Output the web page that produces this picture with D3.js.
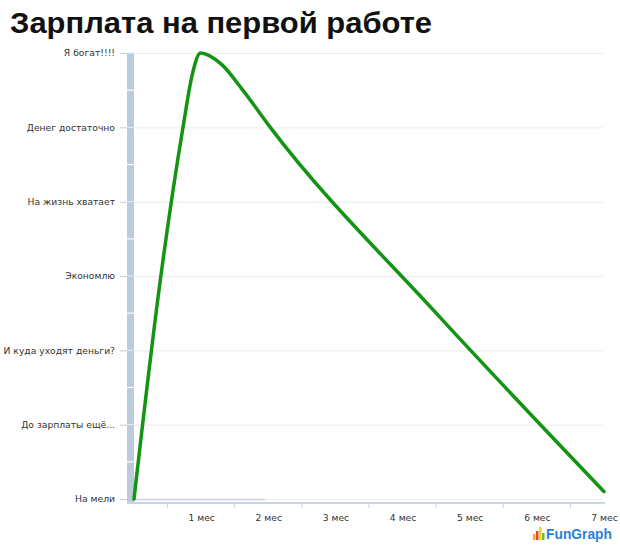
<!DOCTYPE html>
<html><head><meta charset="utf-8">
<script src="https://cdn.jsdelivr.net/npm/d3@7"></script>
<style>html,body{margin:0;padding:0;background:#fff;}svg{display:block;}</style>
</head><body>
<svg id="c" width="620" height="547"></svg>
<script>
const title = "Зарплата на первой работе";
const levelLabels = ["На мели","До зарплаты ещё...","И куда уходят деньги?","Экономлю","На жизнь хватает","Денег достаточно","Я богат!!!!"];
const monthLabels = ["1 мес","2 мес","3 мес","4 мес","5 мес","6 мес","7 мес"];
const months = [0, 0.40, 0.73, 0.87, 0.99, 1.30, 1.62, 2.03, 4.5, 7.0];
const salary = [0, 3.0, 5.0, 5.72, 6.0, 5.85, 5.5, 5.0, 2.5, 0.1];

const svg = d3.select("#c");
const x = d3.scaleLinear().domain([0,7]).range([134,604]);
const y = d3.scaleLinear().domain([0,6]).range([499,53]);

svg.append("text").attr("x",10).attr("y",33).attr("font-family","Liberation Sans, Arial, sans-serif")
  .attr("font-weight","bold").attr("font-size",30).attr("textLength",422).attr("lengthAdjust","spacingAndGlyphs")
  .attr("fill","#111").text(title);

// gridlines
const levels = d3.range(levelLabels.length);
svg.append("g").selectAll("line").data(levels).join("line")
  .attr("x1",134).attr("x2",603).attr("y1",d=>y(d)+0.5).attr("y2",d=>y(d)+0.5)
  .attr("stroke","#ececec").attr("stroke-width",1);
svg.append("line").attr("x1",127).attr("x2",265).attr("y1",y(0)+0.5).attr("y2",y(0)+0.5)
  .attr("stroke","#cdd3dc").attr("stroke-width",1.5);

// y axis bar
svg.append("rect").attr("x",127).attr("y",y(6)).attr("width",7).attr("height",y(0)-y(6)+4).attr("fill","#bccbd9");
const halfs = d3.range(0.5,6,1);
svg.append("g").selectAll("line").data(halfs).join("line")
  .attr("x1",127).attr("x2",134).attr("y1",d=>y(d)).attr("y2",d=>y(d))
  .attr("stroke","#fff").attr("stroke-width",1.2);
svg.append("g").selectAll("line").data(levels.slice(1)).join("line")
  .attr("x1",127).attr("x2",134).attr("y1",d=>y(d)).attr("y2",d=>y(d))
  .attr("stroke","#e6edf3").attr("stroke-width",1);

// y axis ticks and labels
const yAxis = d3.axisLeft(y).tickValues(levels).tickFormat(d=>levelLabels[d]).tickSize(7).tickPadding(5);
const gy = svg.append("g").attr("transform","translate(127,0)").call(yAxis);
gy.select(".domain").remove();
gy.selectAll(".tick line").attr("stroke","#c4ccd6");
gy.selectAll(".tick text").attr("font-family","DejaVu Sans, Verdana, sans-serif").attr("font-size",9.2).attr("fill","#333");

// x axis
svg.append("line").attr("x1",127).attr("x2",605).attr("y1",503).attr("y2",503).attr("stroke","#c9d4e0").attr("stroke-width",2);
const xt = d3.range(0.5,7,1);
svg.append("g").selectAll("line").data(xt).join("line")
  .attr("x1",d=>x(d)).attr("x2",d=>x(d)).attr("y1",504).attr("y2",508)
  .attr("stroke","#c9d4e0").attr("stroke-width",1);
const xAxis = d3.axisBottom(x).tickValues(d3.range(1,8)).tickFormat(d=>monthLabels[d-1]).tickSize(0).tickPadding(11);
const gx = svg.append("g").attr("transform","translate(0,503)").call(xAxis);
gx.select(".domain").remove();
gx.selectAll(".tick text").attr("font-family","DejaVu Sans, Verdana, sans-serif").attr("font-size",9.2).attr("fill","#333");

// line
const pts = months.map((m,i)=>[m,salary[i]]);
const line = d3.line().x(d=>x(d[0])).y(d=>y(d[1])).curve(d3.curveMonotoneX);
svg.append("path").attr("d",line(pts)).attr("fill","none").attr("stroke","#139413").attr("stroke-width",3.5)
  .attr("stroke-linejoin","round").attr("stroke-linecap","round");

// watermark
const wm = svg.append("g").attr("transform","translate(533,527)");
const bars = [[0,6,"#f5a623"],[3,9,"#e8452c"],[6,13,"#f7d21e"],[9,7,"#6cbf2a"]];
wm.selectAll("rect").data(bars).join("rect").attr("x",d=>d[0]).attr("y",d=>13-d[1]).attr("width",2.5).attr("height",d=>d[1]).attr("fill",d=>d[2]);
wm.append("text").attr("x",13).attr("y",12).attr("font-family","Liberation Sans, Arial, sans-serif").attr("font-weight","bold")
  .attr("font-size",14).attr("textLength",66).attr("lengthAdjust","spacingAndGlyphs").attr("fill","#2b7fd6").text("FunGraph");
</script>
</body></html>
